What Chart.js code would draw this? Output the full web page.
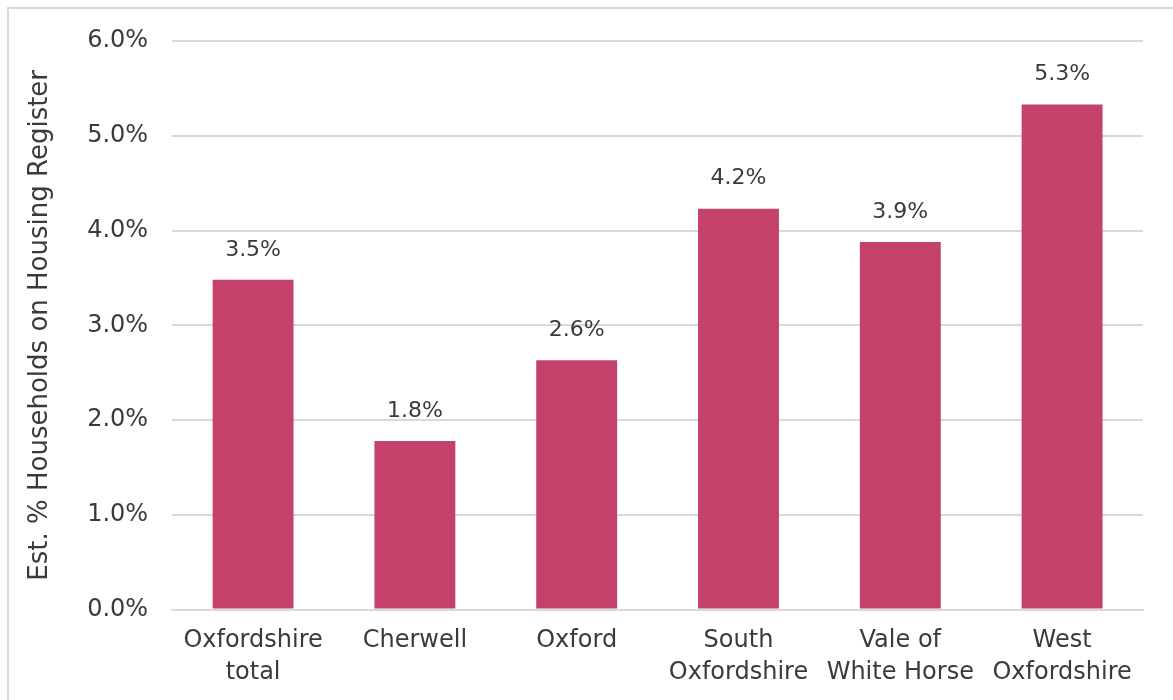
<!DOCTYPE html>
<html>
<head>
<meta charset="utf-8">
<script src="https://cdn.jsdelivr.net/npm/chart.js@4/dist/chart.umd.min.js"></script>
<style>
  html, body { margin: 0; padding: 0; background: #fff; overflow: hidden; }
  #frame {
    position: absolute; left: 7px; top: 7px; width: 1170px; height: 700px;
    border: 2px solid #d9d9d9; box-sizing: border-box; background: #fff;
  }
  #wrap { position: absolute; left: 0; top: 0; right: 0; height: 691px; }
</style>
</head>
<body>
<div id="frame"><div id="wrap"><canvas id="barChart"></canvas></div></div>
<script>
const categories = [
  ['Oxfordshire', 'total'],
  'Cherwell',
  'Oxford',
  ['South', 'Oxfordshire'],
  ['Vale of', 'White Horse'],
  ['West', 'Oxfordshire']
];
const householdShare = [3.48, 1.78, 2.63, 4.23, 3.88, 5.33];
const yTicks = [0, 1, 2, 3, 4, 5, 6];

const FONT = "'DejaVu Sans', sans-serif";
const TEXT = '#3a3a3a';

// draws the value above each bar
const valueLabels = {
  id: 'valueLabels',
  afterDatasetsDraw(chart) {
    const ctx = chart.ctx;
    const meta = chart.getDatasetMeta(0);
    ctx.save();
    ctx.font = '22px ' + FONT;
    ctx.fillStyle = TEXT;
    ctx.textAlign = 'center';
    ctx.textBaseline = 'bottom';
    meta.data.forEach((bar, i) => {
      ctx.fillText(householdShare[i].toFixed(1) + '%', bar.x, bar.y - 19);
    });
    ctx.restore();
  }
};

new Chart(document.getElementById('barChart'), {
  type: 'bar',
  data: {
    labels: categories,
    datasets: [{
      data: householdShare,
      backgroundColor: '#c4426a',
      barPercentage: 0.5,
      categoryPercentage: 1
    }]
  },
  options: {
    responsive: true,
    maintainAspectRatio: false,
    animation: false,
    layout: { padding: { top: 4, right: 32, bottom: 4, left: 16 } },
    plugins: { legend: { display: false }, tooltip: { enabled: false } },
    scales: {
      x: {
        grid: { display: false },
        border: { color: '#d9d9d9', width: 2 },
        ticks: {
          color: TEXT,
          font: { family: FONT, size: 24, lineHeight: 1.3 },
          padding: 8, maxRotation: 0, autoSkip: false
        }
      },
      y: {
        min: 0,
        max: 6,
        afterBuildTicks(axis) { axis.ticks = yTicks.map(v => ({ value: v })); },
        // tick padding also pads the top; keep the top gridline higher
        afterFit(axis) { axis.paddingTop = 32; },
        grid: { color: '#d9d9d9', lineWidth: 2, drawTicks: false },
        border: { display: false },
        ticks: {
          color: TEXT,
          font: { family: FONT, size: 24 },
          padding: 24,
          callback: v => v.toFixed(1) + '%'
        },
        title: {
          display: true,
          text: 'Est. % Households on Housing Register',
          color: TEXT,
          font: { family: FONT, size: 26 },
          padding: { top: 0, bottom: 7 }
        }
      }
    }
  },
  plugins: [valueLabels]
});
</script>
</body>
</html>
